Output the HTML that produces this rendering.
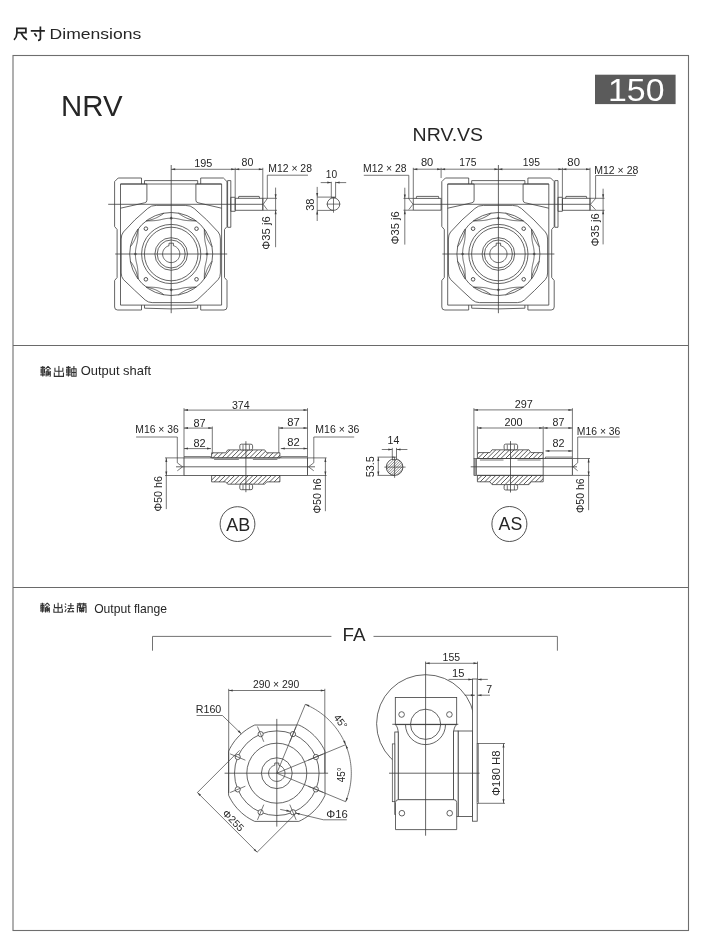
<!DOCTYPE html>
<html><head><meta charset="utf-8"><style>html,body{margin:0;padding:0;background:#fff;width:703px;height:944px;overflow:hidden;position:relative}</style></head>
<body>
<svg width="703" height="944" viewBox="0 0 703 944" style="position:absolute;left:0;top:0;will-change:transform">
<rect x="0" y="0" width="703" height="944" fill="#fff"/>
<rect x="13" y="55.5" width="675.5" height="875" fill="none" stroke="#6e6e6e" stroke-width="1.1"/>
<line x1="13.00" y1="345.50" x2="688.50" y2="345.50" stroke="#6a6a6a" stroke-width="1.0"/>
<line x1="13.00" y1="587.50" x2="688.50" y2="587.50" stroke="#6a6a6a" stroke-width="1.0"/>
<text x="49.60" y="38.80" font-size="15.0" font-family="Liberation Sans, sans-serif" fill="#262626" text-anchor="start" textLength="91.60" lengthAdjust="spacingAndGlyphs">Dimensions</text>
<g fill="none" stroke="#222" stroke-width="1.7" stroke-linecap="butt">
<path d="M16.9,28.3 H25.9 V32.6 H16.9 M16.9,27.5 V33.2 Q16.8,37.2 14.0,39.8 M21.0,32.8 Q23.3,37.6 27.0,39.8"/>
<path d="M30.8,30.8 H44.9 M40.4,26.4 V38.6 Q40.3,40.2 38.0,40.4 M34.4,33.2 L36.7,36.4"/>
</g>
<text x="61.05" y="115.90" font-size="29.7" font-family="Liberation Sans, sans-serif" fill="#262626" text-anchor="start" textLength="61.50" lengthAdjust="spacingAndGlyphs">NRV</text>
<rect x="595" y="74.7" width="80.6" height="29.4" fill="#5b5b5b"/>
<text x="608.06" y="100.60" font-size="31.5" font-family="Liberation Sans, sans-serif" fill="#ffffff" text-anchor="start" textLength="56.44" lengthAdjust="spacingAndGlyphs">150</text>
<text x="412.64" y="141.30" font-size="18.7" font-family="Liberation Sans, sans-serif" fill="#262626" text-anchor="start" textLength="70.51" lengthAdjust="spacingAndGlyphs">NRV.VS</text>
<g fill="none">
<path d="M 40.51,367.35 L 45.08,367.35 M 41.13,369.01 L 44.46,369.01 L 44.46,372.96 L 41.13,372.96 Z M 41.13,370.99 L 44.46,370.99 M 42.80,366.10 L 42.80,376.50 M 40.30,374.84 L 45.19,374.84" fill="none" stroke="#333" stroke-width="1.1"/>
<path d="M 48.00,366.31 L 45.50,369.22 M 48.00,366.31 L 50.70,369.22 M 46.75,369.84 L 49.45,369.84 M 46.12,371.30 L 48.00,371.30 L 48.00,376.29 M 46.12,371.30 L 46.12,376.50 M 46.12,373.07 L 48.00,373.07 M 46.12,374.73 L 48.00,374.73 M 49.04,371.51 L 49.04,375.04 M 50.28,370.88 L 50.28,376.08 L 49.66,376.50" fill="none" stroke="#333" stroke-width="1.1"/>
<path d="M 58.90,366.10 L 58.90,376.50 M 54.95,367.76 L 54.95,371.30 L 62.85,371.30 L 62.85,367.76 M 54.32,372.55 L 54.32,376.40 L 63.48,376.40 L 63.48,372.55" fill="none" stroke="#333" stroke-width="1.1"/>
<path d="M 66.11,367.35 L 70.68,367.35 M 66.73,369.01 L 70.06,369.01 L 70.06,372.96 L 66.73,372.96 Z M 66.73,370.99 L 70.06,370.99 M 68.40,366.10 L 68.40,376.50 M 65.90,374.84 L 70.79,374.84" fill="none" stroke="#333" stroke-width="1.1"/>
<path d="M 71.72,368.80 L 76.09,368.80 L 76.09,376.29 L 71.72,376.29 Z M 71.72,372.55 L 76.09,372.55 M 73.91,366.10 L 73.91,376.29" fill="none" stroke="#333" stroke-width="1.1"/>
</g>
<text x="80.72" y="375.40" font-size="11.9" font-family="Liberation Sans, sans-serif" fill="#262626" text-anchor="start" textLength="70.38" lengthAdjust="spacingAndGlyphs">Output shaft</text>
<g fill="none">
<path d="M 40.29,603.95 L 44.52,603.95 M 40.87,605.49 L 43.94,605.49 L 43.94,609.14 L 40.87,609.14 Z M 40.87,607.31 L 43.94,607.31 M 42.40,602.80 L 42.40,612.40 M 40.10,610.86 L 44.61,610.86" fill="none" stroke="#333" stroke-width="1.1"/>
<path d="M 47.20,602.99 L 44.90,605.68 M 47.20,602.99 L 49.70,605.68 M 46.05,606.26 L 48.55,606.26 M 45.48,607.60 L 47.20,607.60 L 47.20,612.21 M 45.48,607.60 L 45.48,612.40 M 45.48,609.23 L 47.20,609.23 M 45.48,610.77 L 47.20,610.77 M 48.16,607.79 L 48.16,611.06 M 49.32,607.22 L 49.32,612.02 L 48.74,612.40" fill="none" stroke="#333" stroke-width="1.1"/>
<path d="M 58.10,602.80 L 58.10,612.40 M 54.45,604.34 L 54.45,607.60 L 61.75,607.60 L 61.75,604.34 M 53.88,608.75 L 53.88,612.30 L 62.32,612.30 L 62.32,608.75" fill="none" stroke="#333" stroke-width="1.1"/>
<path d="M 65.08,603.57 L 66.14,604.62 M 64.79,606.45 L 65.85,607.50 M 64.89,612.02 L 66.33,609.14 M 67.86,605.68 L 73.82,605.68 M 70.84,603.09 L 70.84,608.56 M 67.29,608.56 L 74.20,608.56 M 69.98,608.75 L 68.06,611.92 L 73.62,611.44 M 72.47,610.10 L 73.82,612.21" fill="none" stroke="#333" stroke-width="1.1"/>
<path d="M 76.90,603.86 L 86.50,603.86 M 79.78,602.80 L 79.78,604.91 M 83.62,602.80 L 83.62,604.91 M 77.38,605.30 L 77.38,612.40 M 86.02,605.30 L 86.02,612.21 L 85.35,612.40 M 77.38,605.30 L 80.55,605.30 L 80.55,607.22 L 77.38,607.22 M 82.85,605.30 L 86.02,605.30 M 82.85,605.30 L 82.85,607.22 L 86.02,607.22 M 79.01,607.98 L 84.39,607.98 M 79.59,608.85 L 83.81,608.85 L 83.81,610.48 L 79.59,610.48 Z M 81.70,607.50 L 81.70,612.40 M 81.32,610.67 L 79.40,612.02 M 82.08,610.67 L 84.00,612.02" fill="none" stroke="#333" stroke-width="1.1"/>
</g>
<text x="94.15" y="613.00" font-size="11.9" font-family="Liberation Sans, sans-serif" fill="#262626" text-anchor="start" textLength="72.89" lengthAdjust="spacingAndGlyphs">Output flange</text>
<path d="M141.50,184.00 L141.50,178.00 L118.20,178.00 L114.60,181.60 L114.60,226.50 L117.10,229.50 L117.10,277.50 L114.60,280.50 L114.60,307.00 Q114.60,310.00 117.60,310.00 L141.50,310.00 L141.50,305.10" fill="none" stroke="#3e3e3e" stroke-width="0.8"/>
<path d="M200.70,184.00 L200.70,178.00 L223.40,178.00 L227.00,181.60 L227.00,226.50 L224.50,229.50 L224.50,277.50 L227.00,280.50 L227.00,307.00 Q227.00,310.00 224.00,310.00 L200.70,310.00 L200.70,305.10" fill="none" stroke="#3e3e3e" stroke-width="0.8"/>
<path d="M144.50,184.00 L144.50,180.60 L197.70,180.60 L197.70,184.00" fill="none" stroke="#3e3e3e" stroke-width="0.8"/>
<path d="M144.50,305.10 L144.50,308.20 Q171.20,309.60 197.70,308.20 L197.70,305.10" fill="none" stroke="#3e3e3e" stroke-width="0.8"/>
<polygon points="120.50,184.00 221.60,184.00 221.60,305.10 120.50,305.10" fill="none" stroke="#3e3e3e" stroke-width="0.8"/>
<path d="M120.50,184.00 L146.90,184.00 L146.90,200.20 Q146.90,202.40 144.70,202.80 L120.50,208.20" fill="none" stroke="#3e3e3e" stroke-width="0.8"/>
<path d="M221.60,184.00 L195.90,184.00 L195.90,200.20 Q195.90,202.40 198.10,202.80 L221.60,208.20" fill="none" stroke="#3e3e3e" stroke-width="0.8"/>
<path d="M156.20,205.40 L185.20,205.40 Q190.70,205.20 194.20,208.50 Q207.20,219.50 218.20,232.00 Q220.40,234.50 220.40,239.00 L220.40,273.00 Q220.40,277.00 218.20,279.50 Q207.20,291.00 197.20,300.00 Q194.20,302.60 190.20,302.60 L152.20,302.60 Q148.20,302.60 145.20,300.00 Q135.20,291.00 123.40,279.50 Q121.20,277.00 121.20,273.00 L121.20,239.00 Q121.20,234.50 123.40,232.00 Q134.20,219.50 147.70,208.50 Q151.20,205.20 156.20,205.40 Z" fill="none" stroke="#3e3e3e" stroke-width="0.8"/>
<circle cx="171.20" cy="254.00" r="41.50" fill="none" stroke="#3e3e3e" stroke-width="0.8"/>
<path d="M204.34,229.02 L204.34,229.92 L204.35,230.79 L204.35,231.64 L204.36,232.46 L204.38,233.27 L204.40,234.05 L204.43,234.82 L204.46,235.56 L204.50,236.30 L204.55,237.01 L204.60,237.71 L204.67,238.39 L204.74,239.07 L204.82,239.73 L204.91,240.38 L205.01,241.02 L205.12,241.65 L205.24,242.28 L205.36,242.90 L205.50,243.51 L205.64,244.12 L205.79,244.73 L205.94,245.34 L206.08,245.95 L206.22,246.56 L206.34,247.17 L206.46,247.78 L206.56,248.40 L206.65,249.02 L206.73,249.64 L206.80,250.26 L206.86,250.88 L206.91,251.50 L206.95,252.13 L206.98,252.75 L206.99,253.38 L207.00,254.00 L206.99,254.62 L206.98,255.25 L206.95,255.87 L206.91,256.50 L206.86,257.12 L206.80,257.74 L206.73,258.36 L206.65,258.98 L206.56,259.60 L206.46,260.22 L206.34,260.83 L206.22,261.44 L206.08,262.05 L205.94,262.66 L205.79,263.27 L205.64,263.88 L205.50,264.49 L205.36,265.10 L205.24,265.72 L205.12,266.35 L205.01,266.98 L204.91,267.62 L204.82,268.27 L204.74,268.93 L204.67,269.61 L204.60,270.29 L204.55,270.99 L204.50,271.70 L204.46,272.44 L204.43,273.18 L204.40,273.95 L204.38,274.73 L204.36,275.54 L204.35,276.36 L204.35,277.21 L204.34,278.08 L204.34,278.98" fill="none" stroke="#3e3e3e" stroke-width="0.8"/>
<path d="M212.07,246.79 L211.20,245.72 L210.49,244.66 L209.83,243.61 L209.20,242.56 L208.61,241.53 L208.05,240.50 L207.53,239.46 L207.06,238.41 L206.62,237.34 L206.21,236.26 L205.83,235.15 L205.48,234.01 L205.15,232.84 L204.83,231.64 L204.53,230.39 L204.34,229.02" fill="none" stroke="#3e3e3e" stroke-width="0.8"/>
<path d="M212.07,261.21 L211.20,262.28 L210.49,263.34 L209.83,264.39 L209.20,265.44 L208.61,266.47 L208.05,267.50 L207.53,268.54 L207.06,269.59 L206.62,270.66 L206.21,271.74 L205.83,272.85 L205.48,273.99 L205.15,275.16 L204.83,276.36 L204.53,277.61 L204.34,278.98" fill="none" stroke="#3e3e3e" stroke-width="0.8"/>
<path d="M196.18,287.14 L195.28,287.14 L194.41,287.15 L193.56,287.15 L192.74,287.16 L191.93,287.18 L191.15,287.20 L190.38,287.23 L189.64,287.26 L188.90,287.30 L188.19,287.35 L187.49,287.40 L186.81,287.47 L186.13,287.54 L185.47,287.62 L184.82,287.71 L184.18,287.81 L183.55,287.92 L182.92,288.04 L182.30,288.16 L181.69,288.30 L181.08,288.44 L180.47,288.59 L179.86,288.74 L179.25,288.88 L178.64,289.02 L178.03,289.14 L177.42,289.26 L176.80,289.36 L176.18,289.45 L175.56,289.53 L174.94,289.60 L174.32,289.66 L173.70,289.71 L173.07,289.75 L172.45,289.78 L171.82,289.79 L171.20,289.80 L170.58,289.79 L169.95,289.78 L169.33,289.75 L168.70,289.71 L168.08,289.66 L167.46,289.60 L166.84,289.53 L166.22,289.45 L165.60,289.36 L164.98,289.26 L164.37,289.14 L163.76,289.02 L163.15,288.88 L162.54,288.74 L161.93,288.59 L161.32,288.44 L160.71,288.30 L160.10,288.16 L159.48,288.04 L158.85,287.92 L158.22,287.81 L157.58,287.71 L156.93,287.62 L156.27,287.54 L155.59,287.47 L154.91,287.40 L154.21,287.35 L153.50,287.30 L152.76,287.26 L152.02,287.23 L151.25,287.20 L150.47,287.18 L149.66,287.16 L148.84,287.15 L147.99,287.15 L147.12,287.14 L146.22,287.14" fill="none" stroke="#3e3e3e" stroke-width="0.8"/>
<path d="M178.41,294.87 L179.48,294.00 L180.54,293.29 L181.59,292.63 L182.64,292.00 L183.67,291.41 L184.70,290.85 L185.74,290.33 L186.79,289.86 L187.86,289.42 L188.94,289.01 L190.05,288.63 L191.19,288.28 L192.36,287.95 L193.56,287.63 L194.81,287.33 L196.18,287.14" fill="none" stroke="#3e3e3e" stroke-width="0.8"/>
<path d="M163.99,294.87 L162.92,294.00 L161.86,293.29 L160.81,292.63 L159.76,292.00 L158.73,291.41 L157.70,290.85 L156.66,290.33 L155.61,289.86 L154.54,289.42 L153.46,289.01 L152.35,288.63 L151.21,288.28 L150.04,287.95 L148.84,287.63 L147.59,287.33 L146.22,287.14" fill="none" stroke="#3e3e3e" stroke-width="0.8"/>
<path d="M138.06,278.98 L138.06,278.08 L138.05,277.21 L138.05,276.36 L138.04,275.54 L138.02,274.73 L138.00,273.95 L137.97,273.18 L137.94,272.44 L137.90,271.70 L137.85,270.99 L137.80,270.29 L137.73,269.61 L137.66,268.93 L137.58,268.27 L137.49,267.62 L137.39,266.98 L137.28,266.35 L137.16,265.72 L137.04,265.10 L136.90,264.49 L136.76,263.88 L136.61,263.27 L136.46,262.66 L136.32,262.05 L136.18,261.44 L136.06,260.83 L135.94,260.22 L135.84,259.60 L135.75,258.98 L135.67,258.36 L135.60,257.74 L135.54,257.12 L135.49,256.50 L135.45,255.87 L135.42,255.25 L135.41,254.62 L135.40,254.00 L135.41,253.38 L135.42,252.75 L135.45,252.13 L135.49,251.50 L135.54,250.88 L135.60,250.26 L135.67,249.64 L135.75,249.02 L135.84,248.40 L135.94,247.78 L136.06,247.17 L136.18,246.56 L136.32,245.95 L136.46,245.34 L136.61,244.73 L136.76,244.12 L136.90,243.51 L137.04,242.90 L137.16,242.28 L137.28,241.65 L137.39,241.02 L137.49,240.38 L137.58,239.73 L137.66,239.07 L137.73,238.39 L137.80,237.71 L137.85,237.01 L137.90,236.30 L137.94,235.56 L137.97,234.82 L138.00,234.05 L138.02,233.27 L138.04,232.46 L138.05,231.64 L138.05,230.79 L138.06,229.92 L138.06,229.02" fill="none" stroke="#3e3e3e" stroke-width="0.8"/>
<path d="M130.33,261.21 L131.20,262.28 L131.91,263.34 L132.57,264.39 L133.20,265.44 L133.79,266.47 L134.35,267.50 L134.87,268.54 L135.34,269.59 L135.78,270.66 L136.19,271.74 L136.57,272.85 L136.92,273.99 L137.25,275.16 L137.57,276.36 L137.87,277.61 L138.06,278.98" fill="none" stroke="#3e3e3e" stroke-width="0.8"/>
<path d="M130.33,246.79 L131.20,245.72 L131.91,244.66 L132.57,243.61 L133.20,242.56 L133.79,241.53 L134.35,240.50 L134.87,239.46 L135.34,238.41 L135.78,237.34 L136.19,236.26 L136.57,235.15 L136.92,234.01 L137.25,232.84 L137.57,231.64 L137.87,230.39 L138.06,229.02" fill="none" stroke="#3e3e3e" stroke-width="0.8"/>
<path d="M146.22,220.86 L147.12,220.86 L147.99,220.85 L148.84,220.85 L149.66,220.84 L150.47,220.82 L151.25,220.80 L152.02,220.77 L152.76,220.74 L153.50,220.70 L154.21,220.65 L154.91,220.60 L155.59,220.53 L156.27,220.46 L156.93,220.38 L157.58,220.29 L158.22,220.19 L158.85,220.08 L159.48,219.96 L160.10,219.84 L160.71,219.70 L161.32,219.56 L161.93,219.41 L162.54,219.26 L163.15,219.12 L163.76,218.98 L164.37,218.86 L164.98,218.74 L165.60,218.64 L166.22,218.55 L166.84,218.47 L167.46,218.40 L168.08,218.34 L168.70,218.29 L169.33,218.25 L169.95,218.22 L170.58,218.21 L171.20,218.20 L171.82,218.21 L172.45,218.22 L173.07,218.25 L173.70,218.29 L174.32,218.34 L174.94,218.40 L175.56,218.47 L176.18,218.55 L176.80,218.64 L177.42,218.74 L178.03,218.86 L178.64,218.98 L179.25,219.12 L179.86,219.26 L180.47,219.41 L181.08,219.56 L181.69,219.70 L182.30,219.84 L182.92,219.96 L183.55,220.08 L184.18,220.19 L184.82,220.29 L185.47,220.38 L186.13,220.46 L186.81,220.53 L187.49,220.60 L188.19,220.65 L188.90,220.70 L189.64,220.74 L190.38,220.77 L191.15,220.80 L191.93,220.82 L192.74,220.84 L193.56,220.85 L194.41,220.85 L195.28,220.86 L196.18,220.86" fill="none" stroke="#3e3e3e" stroke-width="0.8"/>
<path d="M163.99,213.13 L162.92,214.00 L161.86,214.71 L160.81,215.37 L159.76,216.00 L158.73,216.59 L157.70,217.15 L156.66,217.67 L155.61,218.14 L154.54,218.58 L153.46,218.99 L152.35,219.37 L151.21,219.72 L150.04,220.05 L148.84,220.37 L147.59,220.67 L146.22,220.86" fill="none" stroke="#3e3e3e" stroke-width="0.8"/>
<path d="M178.41,213.13 L179.48,214.00 L180.54,214.71 L181.59,215.37 L182.64,216.00 L183.67,216.59 L184.70,217.15 L185.74,217.67 L186.79,218.14 L187.86,218.58 L188.94,218.99 L190.05,219.37 L191.19,219.72 L192.36,220.05 L193.56,220.37 L194.81,220.67 L196.18,220.86" fill="none" stroke="#3e3e3e" stroke-width="0.8"/>
<circle cx="171.20" cy="254.00" r="29.60" fill="none" stroke="#3e3e3e" stroke-width="0.8"/>
<circle cx="171.20" cy="254.00" r="26.80" fill="none" stroke="#3e3e3e" stroke-width="0.8"/>
<circle cx="171.20" cy="254.00" r="16.30" fill="none" stroke="#3e3e3e" stroke-width="0.8"/>
<circle cx="171.20" cy="254.00" r="14.00" fill="none" stroke="#3e3e3e" stroke-width="0.8"/>
<path d="M173.40,243.20 L173.40,245.69 L173.40,245.69 L174.57,246.09 L175.67,246.65 L176.68,247.37 L177.58,248.23 L178.34,249.21 L178.95,250.28 L179.41,251.43 L179.69,252.64 L179.80,253.87 L179.73,255.11 L179.48,256.32 L179.06,257.49 L178.48,258.58 L177.74,259.58 L176.88,260.46 L175.89,261.21 L174.80,261.81 L173.65,262.25 L172.44,262.51 L171.20,262.60 L169.96,262.51 L168.75,262.25 L167.60,261.81 L166.51,261.21 L165.52,260.46 L164.66,259.58 L163.92,258.58 L163.34,257.49 L162.92,256.32 L162.67,255.11 L162.60,253.87 L162.71,252.64 L162.99,251.43 L163.45,250.28 L164.06,249.21 L164.82,248.23 L165.72,247.37 L166.73,246.65 L167.83,246.09 L169.00,245.69 L169.00,243.20 Z" fill="none" stroke="#3e3e3e" stroke-width="0.8"/>
<polygon points="205.40,254.00 207.00,252.40 208.60,254.00 207.00,255.60" fill="#555" stroke="none"/>
<circle cx="196.51" cy="279.31" r="1.80" fill="none" stroke="#3e3e3e" stroke-width="0.9"/>
<polygon points="169.60,289.80 171.20,288.20 172.80,289.80 171.20,291.40" fill="#555" stroke="none"/>
<circle cx="145.89" cy="279.31" r="1.80" fill="none" stroke="#3e3e3e" stroke-width="0.9"/>
<polygon points="133.80,254.00 135.40,252.40 137.00,254.00 135.40,255.60" fill="#555" stroke="none"/>
<circle cx="145.89" cy="228.69" r="1.80" fill="none" stroke="#3e3e3e" stroke-width="0.9"/>
<polygon points="169.60,218.20 171.20,216.60 172.80,218.20 171.20,219.80" fill="#555" stroke="none"/>
<circle cx="196.51" cy="228.69" r="1.80" fill="none" stroke="#3e3e3e" stroke-width="0.9"/>
<line x1="171.20" y1="165.00" x2="171.20" y2="313.20" stroke="#3e3e3e" stroke-width="0.8"/>
<line x1="115.20" y1="254.00" x2="227.20" y2="254.00" stroke="#3e3e3e" stroke-width="0.8"/>
<polygon points="227.60,180.60 230.80,180.60 230.80,227.30 227.60,227.30" fill="none" stroke="#3e3e3e" stroke-width="0.8"/>
<polygon points="230.80,197.30 235.20,197.30 235.20,211.30 230.80,211.30" fill="none" stroke="#3e3e3e" stroke-width="0.8"/>
<polygon points="235.20,198.30 262.80,198.30 262.80,210.30 235.20,210.30" fill="none" stroke="#3e3e3e" stroke-width="0.8"/>
<path d="M238.40,198.3 L238.80,196.4 L259.20,196.4 L259.60,198.3" fill="none" stroke="#3e3e3e" stroke-width="0.8"/>
<line x1="108.20" y1="204.30" x2="262.80" y2="204.30" stroke="#3e3e3e" stroke-width="0.8"/>
<line x1="171.20" y1="169.30" x2="235.20" y2="169.30" stroke="#3e3e3e" stroke-width="0.7"/>
<polygon points="171.20,169.30 175.20,168.30 175.20,170.30" fill="#3e3e3e"/>
<polygon points="235.20,169.30 231.20,170.30 231.20,168.30" fill="#3e3e3e"/>
<line x1="235.20" y1="169.30" x2="262.80" y2="169.30" stroke="#3e3e3e" stroke-width="0.7"/>
<polygon points="235.20,169.30 239.20,168.30 239.20,170.30" fill="#3e3e3e"/>
<polygon points="262.80,169.30 258.80,170.30 258.80,168.30" fill="#3e3e3e"/>
<line x1="235.20" y1="167.80" x2="235.20" y2="197.30" stroke="#3e3e3e" stroke-width="0.7"/>
<line x1="262.80" y1="167.80" x2="262.80" y2="210.30" stroke="#3e3e3e" stroke-width="0.7"/>
<text x="194.29" y="166.60" font-size="10.5" font-family="Liberation Sans, sans-serif" fill="#262626" text-anchor="start" textLength="18.08" lengthAdjust="spacingAndGlyphs">195</text>
<text x="241.62" y="166.40" font-size="10.5" font-family="Liberation Sans, sans-serif" fill="#262626" text-anchor="start" textLength="11.77" lengthAdjust="spacingAndGlyphs">80</text>
<text x="268.27" y="172.30" font-size="10.3" font-family="Liberation Sans, sans-serif" fill="#262626" text-anchor="start" textLength="43.67" lengthAdjust="spacingAndGlyphs">M12 × 28</text>
<path d="M308,175.2 L267.3,175.2 L267.3,198.5 L263.2,204.3 L267.3,209.8" fill="none" stroke="#3e3e3e" stroke-width="0.7"/>
<line x1="275.60" y1="187.60" x2="275.60" y2="247.20" stroke="#3e3e3e" stroke-width="0.7"/>
<line x1="262.80" y1="198.30" x2="277.00" y2="198.30" stroke="#3e3e3e" stroke-width="0.7"/>
<line x1="262.80" y1="210.30" x2="277.00" y2="210.30" stroke="#3e3e3e" stroke-width="0.7"/>
<polygon points="275.60,198.30 274.60,194.30 276.60,194.30" fill="#3e3e3e"/>
<polygon points="275.60,210.30 276.60,214.30 274.60,214.30" fill="#3e3e3e"/>
<text x="270.30" y="249.72" font-size="10.5" font-family="Liberation Sans, sans-serif" fill="#262626" text-anchor="start" textLength="33.49" lengthAdjust="spacingAndGlyphs" transform="rotate(-90 270.30 249.72)">Φ35 j6</text>
<circle cx="333.50" cy="204.10" r="6.26" fill="none" stroke="#3e3e3e" stroke-width="0.8"/>
<line x1="331.30" y1="181.80" x2="331.30" y2="197.60" stroke="#3e3e3e" stroke-width="0.7"/>
<line x1="335.60" y1="181.80" x2="335.60" y2="197.60" stroke="#3e3e3e" stroke-width="0.7"/>
<line x1="331.30" y1="197.60" x2="335.60" y2="197.60" stroke="#3e3e3e" stroke-width="0.7"/>
<line x1="320.70" y1="182.60" x2="331.30" y2="182.60" stroke="#3e3e3e" stroke-width="0.7"/>
<line x1="335.60" y1="182.60" x2="346.20" y2="182.60" stroke="#3e3e3e" stroke-width="0.7"/>
<polygon points="331.30,182.60 327.30,183.60 327.30,181.60" fill="#3e3e3e"/>
<polygon points="335.60,182.60 339.60,181.60 339.60,183.60" fill="#3e3e3e"/>
<text x="325.84" y="177.90" font-size="10.3" font-family="Liberation Sans, sans-serif" fill="#262626" text-anchor="start" textLength="11.35" lengthAdjust="spacingAndGlyphs">10</text>
<line x1="317.20" y1="186.90" x2="317.20" y2="221.00" stroke="#3e3e3e" stroke-width="0.7"/>
<line x1="317.20" y1="197.10" x2="335.60" y2="197.10" stroke="#3e3e3e" stroke-width="0.7"/>
<line x1="317.20" y1="210.40" x2="333.50" y2="210.40" stroke="#3e3e3e" stroke-width="0.7"/>
<polygon points="317.20,197.10 316.20,193.10 318.20,193.10" fill="#3e3e3e"/>
<polygon points="317.20,210.40 318.20,214.40 316.20,214.40" fill="#3e3e3e"/>
<text x="314.10" y="210.84" font-size="10.5" font-family="Liberation Sans, sans-serif" fill="#262626" text-anchor="start" textLength="12.31" lengthAdjust="spacingAndGlyphs" transform="rotate(-90 314.10 210.84)">38</text>
<line x1="326.60" y1="204.10" x2="340.30" y2="204.10" stroke="#3e3e3e" stroke-width="0.7"/>
<line x1="333.50" y1="197.00" x2="333.50" y2="212.70" stroke="#3e3e3e" stroke-width="0.7"/>
<path d="M468.70,184.00 L468.70,178.00 L445.40,178.00 L441.80,181.60 L441.80,226.50 L444.30,229.50 L444.30,277.50 L441.80,280.50 L441.80,307.00 Q441.80,310.00 444.80,310.00 L468.70,310.00 L468.70,305.10" fill="none" stroke="#3e3e3e" stroke-width="0.8"/>
<path d="M527.90,184.00 L527.90,178.00 L550.60,178.00 L554.20,181.60 L554.20,226.50 L551.70,229.50 L551.70,277.50 L554.20,280.50 L554.20,307.00 Q554.20,310.00 551.20,310.00 L527.90,310.00 L527.90,305.10" fill="none" stroke="#3e3e3e" stroke-width="0.8"/>
<path d="M471.70,184.00 L471.70,180.60 L524.90,180.60 L524.90,184.00" fill="none" stroke="#3e3e3e" stroke-width="0.8"/>
<path d="M471.70,305.10 L471.70,308.20 Q498.40,309.60 524.90,308.20 L524.90,305.10" fill="none" stroke="#3e3e3e" stroke-width="0.8"/>
<polygon points="447.70,184.00 548.80,184.00 548.80,305.10 447.70,305.10" fill="none" stroke="#3e3e3e" stroke-width="0.8"/>
<path d="M447.70,184.00 L474.10,184.00 L474.10,200.20 Q474.10,202.40 471.90,202.80 L447.70,208.20" fill="none" stroke="#3e3e3e" stroke-width="0.8"/>
<path d="M548.80,184.00 L523.10,184.00 L523.10,200.20 Q523.10,202.40 525.30,202.80 L548.80,208.20" fill="none" stroke="#3e3e3e" stroke-width="0.8"/>
<path d="M483.40,205.40 L512.40,205.40 Q517.90,205.20 521.40,208.50 Q534.40,219.50 545.40,232.00 Q547.60,234.50 547.60,239.00 L547.60,273.00 Q547.60,277.00 545.40,279.50 Q534.40,291.00 524.40,300.00 Q521.40,302.60 517.40,302.60 L479.40,302.60 Q475.40,302.60 472.40,300.00 Q462.40,291.00 450.60,279.50 Q448.40,277.00 448.40,273.00 L448.40,239.00 Q448.40,234.50 450.60,232.00 Q461.40,219.50 474.90,208.50 Q478.40,205.20 483.40,205.40 Z" fill="none" stroke="#3e3e3e" stroke-width="0.8"/>
<circle cx="498.40" cy="254.00" r="41.50" fill="none" stroke="#3e3e3e" stroke-width="0.8"/>
<path d="M531.54,229.02 L531.54,229.92 L531.55,230.79 L531.55,231.64 L531.56,232.46 L531.58,233.27 L531.60,234.05 L531.63,234.82 L531.66,235.56 L531.70,236.30 L531.75,237.01 L531.80,237.71 L531.87,238.39 L531.94,239.07 L532.02,239.73 L532.11,240.38 L532.21,241.02 L532.32,241.65 L532.44,242.28 L532.56,242.90 L532.70,243.51 L532.84,244.12 L532.99,244.73 L533.14,245.34 L533.28,245.95 L533.42,246.56 L533.54,247.17 L533.66,247.78 L533.76,248.40 L533.85,249.02 L533.93,249.64 L534.00,250.26 L534.06,250.88 L534.11,251.50 L534.15,252.13 L534.18,252.75 L534.19,253.38 L534.20,254.00 L534.19,254.62 L534.18,255.25 L534.15,255.87 L534.11,256.50 L534.06,257.12 L534.00,257.74 L533.93,258.36 L533.85,258.98 L533.76,259.60 L533.66,260.22 L533.54,260.83 L533.42,261.44 L533.28,262.05 L533.14,262.66 L532.99,263.27 L532.84,263.88 L532.70,264.49 L532.56,265.10 L532.44,265.72 L532.32,266.35 L532.21,266.98 L532.11,267.62 L532.02,268.27 L531.94,268.93 L531.87,269.61 L531.80,270.29 L531.75,270.99 L531.70,271.70 L531.66,272.44 L531.63,273.18 L531.60,273.95 L531.58,274.73 L531.56,275.54 L531.55,276.36 L531.55,277.21 L531.54,278.08 L531.54,278.98" fill="none" stroke="#3e3e3e" stroke-width="0.8"/>
<path d="M539.27,246.79 L538.40,245.72 L537.69,244.66 L537.03,243.61 L536.40,242.56 L535.81,241.53 L535.25,240.50 L534.73,239.46 L534.26,238.41 L533.82,237.34 L533.41,236.26 L533.03,235.15 L532.68,234.01 L532.35,232.84 L532.03,231.64 L531.73,230.39 L531.54,229.02" fill="none" stroke="#3e3e3e" stroke-width="0.8"/>
<path d="M539.27,261.21 L538.40,262.28 L537.69,263.34 L537.03,264.39 L536.40,265.44 L535.81,266.47 L535.25,267.50 L534.73,268.54 L534.26,269.59 L533.82,270.66 L533.41,271.74 L533.03,272.85 L532.68,273.99 L532.35,275.16 L532.03,276.36 L531.73,277.61 L531.54,278.98" fill="none" stroke="#3e3e3e" stroke-width="0.8"/>
<path d="M523.38,287.14 L522.48,287.14 L521.61,287.15 L520.76,287.15 L519.94,287.16 L519.13,287.18 L518.35,287.20 L517.58,287.23 L516.84,287.26 L516.10,287.30 L515.39,287.35 L514.69,287.40 L514.01,287.47 L513.33,287.54 L512.67,287.62 L512.02,287.71 L511.38,287.81 L510.75,287.92 L510.12,288.04 L509.50,288.16 L508.89,288.30 L508.28,288.44 L507.67,288.59 L507.06,288.74 L506.45,288.88 L505.84,289.02 L505.23,289.14 L504.62,289.26 L504.00,289.36 L503.38,289.45 L502.76,289.53 L502.14,289.60 L501.52,289.66 L500.90,289.71 L500.27,289.75 L499.65,289.78 L499.02,289.79 L498.40,289.80 L497.78,289.79 L497.15,289.78 L496.53,289.75 L495.90,289.71 L495.28,289.66 L494.66,289.60 L494.04,289.53 L493.42,289.45 L492.80,289.36 L492.18,289.26 L491.57,289.14 L490.96,289.02 L490.35,288.88 L489.74,288.74 L489.13,288.59 L488.52,288.44 L487.91,288.30 L487.30,288.16 L486.68,288.04 L486.05,287.92 L485.42,287.81 L484.78,287.71 L484.13,287.62 L483.47,287.54 L482.79,287.47 L482.11,287.40 L481.41,287.35 L480.70,287.30 L479.96,287.26 L479.22,287.23 L478.45,287.20 L477.67,287.18 L476.86,287.16 L476.04,287.15 L475.19,287.15 L474.32,287.14 L473.42,287.14" fill="none" stroke="#3e3e3e" stroke-width="0.8"/>
<path d="M505.61,294.87 L506.68,294.00 L507.74,293.29 L508.79,292.63 L509.84,292.00 L510.87,291.41 L511.90,290.85 L512.94,290.33 L513.99,289.86 L515.06,289.42 L516.14,289.01 L517.25,288.63 L518.39,288.28 L519.56,287.95 L520.76,287.63 L522.01,287.33 L523.38,287.14" fill="none" stroke="#3e3e3e" stroke-width="0.8"/>
<path d="M491.19,294.87 L490.12,294.00 L489.06,293.29 L488.01,292.63 L486.96,292.00 L485.93,291.41 L484.90,290.85 L483.86,290.33 L482.81,289.86 L481.74,289.42 L480.66,289.01 L479.55,288.63 L478.41,288.28 L477.24,287.95 L476.04,287.63 L474.79,287.33 L473.42,287.14" fill="none" stroke="#3e3e3e" stroke-width="0.8"/>
<path d="M465.26,278.98 L465.26,278.08 L465.25,277.21 L465.25,276.36 L465.24,275.54 L465.22,274.73 L465.20,273.95 L465.17,273.18 L465.14,272.44 L465.10,271.70 L465.05,270.99 L465.00,270.29 L464.93,269.61 L464.86,268.93 L464.78,268.27 L464.69,267.62 L464.59,266.98 L464.48,266.35 L464.36,265.72 L464.24,265.10 L464.10,264.49 L463.96,263.88 L463.81,263.27 L463.66,262.66 L463.52,262.05 L463.38,261.44 L463.26,260.83 L463.14,260.22 L463.04,259.60 L462.95,258.98 L462.87,258.36 L462.80,257.74 L462.74,257.12 L462.69,256.50 L462.65,255.87 L462.62,255.25 L462.61,254.62 L462.60,254.00 L462.61,253.38 L462.62,252.75 L462.65,252.13 L462.69,251.50 L462.74,250.88 L462.80,250.26 L462.87,249.64 L462.95,249.02 L463.04,248.40 L463.14,247.78 L463.26,247.17 L463.38,246.56 L463.52,245.95 L463.66,245.34 L463.81,244.73 L463.96,244.12 L464.10,243.51 L464.24,242.90 L464.36,242.28 L464.48,241.65 L464.59,241.02 L464.69,240.38 L464.78,239.73 L464.86,239.07 L464.93,238.39 L465.00,237.71 L465.05,237.01 L465.10,236.30 L465.14,235.56 L465.17,234.82 L465.20,234.05 L465.22,233.27 L465.24,232.46 L465.25,231.64 L465.25,230.79 L465.26,229.92 L465.26,229.02" fill="none" stroke="#3e3e3e" stroke-width="0.8"/>
<path d="M457.53,261.21 L458.40,262.28 L459.11,263.34 L459.77,264.39 L460.40,265.44 L460.99,266.47 L461.55,267.50 L462.07,268.54 L462.54,269.59 L462.98,270.66 L463.39,271.74 L463.77,272.85 L464.12,273.99 L464.45,275.16 L464.77,276.36 L465.07,277.61 L465.26,278.98" fill="none" stroke="#3e3e3e" stroke-width="0.8"/>
<path d="M457.53,246.79 L458.40,245.72 L459.11,244.66 L459.77,243.61 L460.40,242.56 L460.99,241.53 L461.55,240.50 L462.07,239.46 L462.54,238.41 L462.98,237.34 L463.39,236.26 L463.77,235.15 L464.12,234.01 L464.45,232.84 L464.77,231.64 L465.07,230.39 L465.26,229.02" fill="none" stroke="#3e3e3e" stroke-width="0.8"/>
<path d="M473.42,220.86 L474.32,220.86 L475.19,220.85 L476.04,220.85 L476.86,220.84 L477.67,220.82 L478.45,220.80 L479.22,220.77 L479.96,220.74 L480.70,220.70 L481.41,220.65 L482.11,220.60 L482.79,220.53 L483.47,220.46 L484.13,220.38 L484.78,220.29 L485.42,220.19 L486.05,220.08 L486.68,219.96 L487.30,219.84 L487.91,219.70 L488.52,219.56 L489.13,219.41 L489.74,219.26 L490.35,219.12 L490.96,218.98 L491.57,218.86 L492.18,218.74 L492.80,218.64 L493.42,218.55 L494.04,218.47 L494.66,218.40 L495.28,218.34 L495.90,218.29 L496.53,218.25 L497.15,218.22 L497.78,218.21 L498.40,218.20 L499.02,218.21 L499.65,218.22 L500.27,218.25 L500.90,218.29 L501.52,218.34 L502.14,218.40 L502.76,218.47 L503.38,218.55 L504.00,218.64 L504.62,218.74 L505.23,218.86 L505.84,218.98 L506.45,219.12 L507.06,219.26 L507.67,219.41 L508.28,219.56 L508.89,219.70 L509.50,219.84 L510.12,219.96 L510.75,220.08 L511.38,220.19 L512.02,220.29 L512.67,220.38 L513.33,220.46 L514.01,220.53 L514.69,220.60 L515.39,220.65 L516.10,220.70 L516.84,220.74 L517.58,220.77 L518.35,220.80 L519.13,220.82 L519.94,220.84 L520.76,220.85 L521.61,220.85 L522.48,220.86 L523.38,220.86" fill="none" stroke="#3e3e3e" stroke-width="0.8"/>
<path d="M491.19,213.13 L490.12,214.00 L489.06,214.71 L488.01,215.37 L486.96,216.00 L485.93,216.59 L484.90,217.15 L483.86,217.67 L482.81,218.14 L481.74,218.58 L480.66,218.99 L479.55,219.37 L478.41,219.72 L477.24,220.05 L476.04,220.37 L474.79,220.67 L473.42,220.86" fill="none" stroke="#3e3e3e" stroke-width="0.8"/>
<path d="M505.61,213.13 L506.68,214.00 L507.74,214.71 L508.79,215.37 L509.84,216.00 L510.87,216.59 L511.90,217.15 L512.94,217.67 L513.99,218.14 L515.06,218.58 L516.14,218.99 L517.25,219.37 L518.39,219.72 L519.56,220.05 L520.76,220.37 L522.01,220.67 L523.38,220.86" fill="none" stroke="#3e3e3e" stroke-width="0.8"/>
<circle cx="498.40" cy="254.00" r="29.60" fill="none" stroke="#3e3e3e" stroke-width="0.8"/>
<circle cx="498.40" cy="254.00" r="26.80" fill="none" stroke="#3e3e3e" stroke-width="0.8"/>
<circle cx="498.40" cy="254.00" r="16.30" fill="none" stroke="#3e3e3e" stroke-width="0.8"/>
<circle cx="498.40" cy="254.00" r="14.00" fill="none" stroke="#3e3e3e" stroke-width="0.8"/>
<path d="M500.60,243.20 L500.60,245.69 L500.60,245.69 L501.77,246.09 L502.87,246.65 L503.88,247.37 L504.78,248.23 L505.54,249.21 L506.15,250.28 L506.61,251.43 L506.89,252.64 L507.00,253.87 L506.93,255.11 L506.68,256.32 L506.26,257.49 L505.68,258.58 L504.94,259.58 L504.08,260.46 L503.09,261.21 L502.00,261.81 L500.85,262.25 L499.64,262.51 L498.40,262.60 L497.16,262.51 L495.95,262.25 L494.80,261.81 L493.71,261.21 L492.72,260.46 L491.86,259.58 L491.12,258.58 L490.54,257.49 L490.12,256.32 L489.87,255.11 L489.80,253.87 L489.91,252.64 L490.19,251.43 L490.65,250.28 L491.26,249.21 L492.02,248.23 L492.92,247.37 L493.93,246.65 L495.03,246.09 L496.20,245.69 L496.20,243.20 Z" fill="none" stroke="#3e3e3e" stroke-width="0.8"/>
<polygon points="532.60,254.00 534.20,252.40 535.80,254.00 534.20,255.60" fill="#555" stroke="none"/>
<circle cx="523.71" cy="279.31" r="1.80" fill="none" stroke="#3e3e3e" stroke-width="0.9"/>
<polygon points="496.80,289.80 498.40,288.20 500.00,289.80 498.40,291.40" fill="#555" stroke="none"/>
<circle cx="473.09" cy="279.31" r="1.80" fill="none" stroke="#3e3e3e" stroke-width="0.9"/>
<polygon points="461.00,254.00 462.60,252.40 464.20,254.00 462.60,255.60" fill="#555" stroke="none"/>
<circle cx="473.09" cy="228.69" r="1.80" fill="none" stroke="#3e3e3e" stroke-width="0.9"/>
<polygon points="496.80,218.20 498.40,216.60 500.00,218.20 498.40,219.80" fill="#555" stroke="none"/>
<circle cx="523.71" cy="228.69" r="1.80" fill="none" stroke="#3e3e3e" stroke-width="0.9"/>
<line x1="498.40" y1="165.00" x2="498.40" y2="313.20" stroke="#3e3e3e" stroke-width="0.8"/>
<line x1="442.40" y1="254.00" x2="554.40" y2="254.00" stroke="#3e3e3e" stroke-width="0.8"/>
<polygon points="554.80,180.60 558.00,180.60 558.00,227.30 554.80,227.30" fill="none" stroke="#3e3e3e" stroke-width="0.8"/>
<polygon points="558.00,197.30 562.40,197.30 562.40,211.30 558.00,211.30" fill="none" stroke="#3e3e3e" stroke-width="0.8"/>
<polygon points="562.40,198.30 590.00,198.30 590.00,210.30 562.40,210.30" fill="none" stroke="#3e3e3e" stroke-width="0.8"/>
<path d="M565.60,198.3 L566.00,196.4 L586.40,196.4 L586.80,198.3" fill="none" stroke="#3e3e3e" stroke-width="0.8"/>
<polygon points="413.30,198.40 441.10,198.40 441.10,210.20 413.30,210.20" fill="none" stroke="#3e3e3e" stroke-width="0.8"/>
<path d="M416.20,198.4 L416.60,196.4 L438.50,196.4 L438.90,198.4" fill="none" stroke="#3e3e3e" stroke-width="0.8"/>
<line x1="413.30" y1="204.30" x2="590.00" y2="204.30" stroke="#3e3e3e" stroke-width="0.8"/>
<line x1="413.30" y1="169.20" x2="441.10" y2="169.20" stroke="#3e3e3e" stroke-width="0.7"/>
<polygon points="413.30,169.20 417.30,168.20 417.30,170.20" fill="#3e3e3e"/>
<polygon points="441.10,169.20 437.10,170.20 437.10,168.20" fill="#3e3e3e"/>
<line x1="441.10" y1="169.20" x2="498.40" y2="169.20" stroke="#3e3e3e" stroke-width="0.7"/>
<polygon points="441.10,169.20 445.10,168.20 445.10,170.20" fill="#3e3e3e"/>
<polygon points="498.40,169.20 494.40,170.20 494.40,168.20" fill="#3e3e3e"/>
<line x1="498.40" y1="169.20" x2="562.40" y2="169.20" stroke="#3e3e3e" stroke-width="0.7"/>
<polygon points="498.40,169.20 502.40,168.20 502.40,170.20" fill="#3e3e3e"/>
<polygon points="562.40,169.20 558.40,170.20 558.40,168.20" fill="#3e3e3e"/>
<line x1="562.40" y1="169.20" x2="590.00" y2="169.20" stroke="#3e3e3e" stroke-width="0.7"/>
<polygon points="562.40,169.20 566.40,168.20 566.40,170.20" fill="#3e3e3e"/>
<polygon points="590.00,169.20 586.00,170.20 586.00,168.20" fill="#3e3e3e"/>
<line x1="413.30" y1="167.80" x2="413.30" y2="198.40" stroke="#3e3e3e" stroke-width="0.7"/>
<line x1="441.10" y1="167.80" x2="441.10" y2="178.00" stroke="#3e3e3e" stroke-width="0.7"/>
<line x1="562.40" y1="167.80" x2="562.40" y2="197.30" stroke="#3e3e3e" stroke-width="0.7"/>
<line x1="590.00" y1="167.80" x2="590.00" y2="210.30" stroke="#3e3e3e" stroke-width="0.7"/>
<text x="420.90" y="166.40" font-size="10.5" font-family="Liberation Sans, sans-serif" fill="#262626" text-anchor="start" textLength="12.31" lengthAdjust="spacingAndGlyphs">80</text>
<text x="459.33" y="166.40" font-size="10.5" font-family="Liberation Sans, sans-serif" fill="#262626" text-anchor="start" textLength="17.12" lengthAdjust="spacingAndGlyphs">175</text>
<text x="522.73" y="166.40" font-size="10.5" font-family="Liberation Sans, sans-serif" fill="#262626" text-anchor="start" textLength="17.22" lengthAdjust="spacingAndGlyphs">195</text>
<text x="567.39" y="166.40" font-size="10.5" font-family="Liberation Sans, sans-serif" fill="#262626" text-anchor="start" textLength="12.64" lengthAdjust="spacingAndGlyphs">80</text>
<text x="362.97" y="172.40" font-size="10.3" font-family="Liberation Sans, sans-serif" fill="#262626" text-anchor="start" textLength="43.67" lengthAdjust="spacingAndGlyphs">M12 × 28</text>
<path d="M363.8,175.3 L408.8,175.3 L408.8,198.8 L413.0,204.2 L408.8,209.6" fill="none" stroke="#3e3e3e" stroke-width="0.7"/>
<line x1="404.80" y1="187.70" x2="404.80" y2="244.60" stroke="#3e3e3e" stroke-width="0.7"/>
<line x1="403.50" y1="198.40" x2="413.30" y2="198.40" stroke="#3e3e3e" stroke-width="0.7"/>
<line x1="403.50" y1="210.20" x2="413.30" y2="210.20" stroke="#3e3e3e" stroke-width="0.7"/>
<polygon points="404.80,198.40 403.80,194.40 405.80,194.40" fill="#3e3e3e"/>
<polygon points="404.80,210.20 405.80,214.20 403.80,214.20" fill="#3e3e3e"/>
<text x="399.50" y="244.52" font-size="10.5" font-family="Liberation Sans, sans-serif" fill="#262626" text-anchor="start" textLength="33.28" lengthAdjust="spacingAndGlyphs" transform="rotate(-90 399.50 244.52)">Φ35 j6</text>
<text x="594.26" y="173.90" font-size="10.3" font-family="Liberation Sans, sans-serif" fill="#262626" text-anchor="start" textLength="44.08" lengthAdjust="spacingAndGlyphs">M12 × 28</text>
<path d="M636,175.5 L595.60,175.5 L595.60,198.5 L590.50,204.3 L595.60,209.8" fill="none" stroke="#3e3e3e" stroke-width="0.7"/>
<line x1="603.10" y1="188.70" x2="603.10" y2="244.40" stroke="#3e3e3e" stroke-width="0.7"/>
<line x1="590.00" y1="198.30" x2="604.50" y2="198.30" stroke="#3e3e3e" stroke-width="0.7"/>
<line x1="590.00" y1="210.30" x2="604.50" y2="210.30" stroke="#3e3e3e" stroke-width="0.7"/>
<polygon points="603.10,198.30 602.10,194.30 604.10,194.30" fill="#3e3e3e"/>
<polygon points="603.10,210.30 604.10,214.30 602.10,214.30" fill="#3e3e3e"/>
<text x="598.80" y="246.62" font-size="10.5" font-family="Liberation Sans, sans-serif" fill="#262626" text-anchor="start" textLength="33.49" lengthAdjust="spacingAndGlyphs" transform="rotate(-90 598.80 246.62)">Φ35 j6</text>
<line x1="184.00" y1="457.90" x2="307.50" y2="457.90" stroke="#3e3e3e" stroke-width="0.8"/>
<line x1="184.00" y1="475.50" x2="307.50" y2="475.50" stroke="#3e3e3e" stroke-width="0.8"/>
<line x1="184.00" y1="457.90" x2="184.00" y2="475.50" stroke="#3e3e3e" stroke-width="0.9"/>
<line x1="307.50" y1="457.90" x2="307.50" y2="475.50" stroke="#3e3e3e" stroke-width="0.9"/>
<line x1="176.00" y1="466.80" x2="315.00" y2="466.80" stroke="#3e3e3e" stroke-width="0.8"/>
<line x1="184.00" y1="456.60" x2="210.70" y2="456.60" stroke="#3e3e3e" stroke-width="0.7"/>
<line x1="280.80" y1="456.60" x2="307.50" y2="456.60" stroke="#3e3e3e" stroke-width="0.7"/>
<line x1="210.70" y1="456.60" x2="210.70" y2="457.90" stroke="#3e3e3e" stroke-width="0.7"/>
<line x1="280.80" y1="456.60" x2="280.80" y2="457.90" stroke="#3e3e3e" stroke-width="0.7"/>
<clipPath id="htab"><polygon points="211.60,457.90 211.60,452.80 225.70,452.80 227.70,449.90 264.70,449.90 266.70,452.80 279.90,452.80 279.90,457.90"/></clipPath>
<g clip-path="url(#htab)">
<line x1="203.60" y1="457.90" x2="211.60" y2="449.90" stroke="#3e3e3e" stroke-width="0.85"/>
<line x1="208.20" y1="457.90" x2="216.20" y2="449.90" stroke="#3e3e3e" stroke-width="0.85"/>
<line x1="212.80" y1="457.90" x2="220.80" y2="449.90" stroke="#3e3e3e" stroke-width="0.85"/>
<line x1="217.40" y1="457.90" x2="225.40" y2="449.90" stroke="#3e3e3e" stroke-width="0.85"/>
<line x1="222.00" y1="457.90" x2="230.00" y2="449.90" stroke="#3e3e3e" stroke-width="0.85"/>
<line x1="226.60" y1="457.90" x2="234.60" y2="449.90" stroke="#3e3e3e" stroke-width="0.85"/>
<line x1="231.20" y1="457.90" x2="239.20" y2="449.90" stroke="#3e3e3e" stroke-width="0.85"/>
<line x1="235.80" y1="457.90" x2="243.80" y2="449.90" stroke="#3e3e3e" stroke-width="0.85"/>
<line x1="240.40" y1="457.90" x2="248.40" y2="449.90" stroke="#3e3e3e" stroke-width="0.85"/>
<line x1="245.00" y1="457.90" x2="253.00" y2="449.90" stroke="#3e3e3e" stroke-width="0.85"/>
<line x1="249.60" y1="457.90" x2="257.60" y2="449.90" stroke="#3e3e3e" stroke-width="0.85"/>
<line x1="254.20" y1="457.90" x2="262.20" y2="449.90" stroke="#3e3e3e" stroke-width="0.85"/>
<line x1="258.80" y1="457.90" x2="266.80" y2="449.90" stroke="#3e3e3e" stroke-width="0.85"/>
<line x1="263.40" y1="457.90" x2="271.40" y2="449.90" stroke="#3e3e3e" stroke-width="0.85"/>
<line x1="268.00" y1="457.90" x2="276.00" y2="449.90" stroke="#3e3e3e" stroke-width="0.85"/>
<line x1="272.60" y1="457.90" x2="280.60" y2="449.90" stroke="#3e3e3e" stroke-width="0.85"/>
<line x1="277.20" y1="457.90" x2="285.20" y2="449.90" stroke="#3e3e3e" stroke-width="0.85"/>
<line x1="281.80" y1="457.90" x2="289.80" y2="449.90" stroke="#3e3e3e" stroke-width="0.85"/>
<line x1="286.40" y1="457.90" x2="294.40" y2="449.90" stroke="#3e3e3e" stroke-width="0.85"/>
</g>
<clipPath id="hbab"><polygon points="211.60,475.50 211.60,481.90 225.70,481.90 227.70,484.20 264.70,484.20 266.70,481.90 279.90,481.90 279.90,475.50"/></clipPath>
<g clip-path="url(#hbab)">
<line x1="202.90" y1="484.20" x2="211.60" y2="475.50" stroke="#3e3e3e" stroke-width="0.85"/>
<line x1="207.50" y1="484.20" x2="216.20" y2="475.50" stroke="#3e3e3e" stroke-width="0.85"/>
<line x1="212.10" y1="484.20" x2="220.80" y2="475.50" stroke="#3e3e3e" stroke-width="0.85"/>
<line x1="216.70" y1="484.20" x2="225.40" y2="475.50" stroke="#3e3e3e" stroke-width="0.85"/>
<line x1="221.30" y1="484.20" x2="230.00" y2="475.50" stroke="#3e3e3e" stroke-width="0.85"/>
<line x1="225.90" y1="484.20" x2="234.60" y2="475.50" stroke="#3e3e3e" stroke-width="0.85"/>
<line x1="230.50" y1="484.20" x2="239.20" y2="475.50" stroke="#3e3e3e" stroke-width="0.85"/>
<line x1="235.10" y1="484.20" x2="243.80" y2="475.50" stroke="#3e3e3e" stroke-width="0.85"/>
<line x1="239.70" y1="484.20" x2="248.40" y2="475.50" stroke="#3e3e3e" stroke-width="0.85"/>
<line x1="244.30" y1="484.20" x2="253.00" y2="475.50" stroke="#3e3e3e" stroke-width="0.85"/>
<line x1="248.90" y1="484.20" x2="257.60" y2="475.50" stroke="#3e3e3e" stroke-width="0.85"/>
<line x1="253.50" y1="484.20" x2="262.20" y2="475.50" stroke="#3e3e3e" stroke-width="0.85"/>
<line x1="258.10" y1="484.20" x2="266.80" y2="475.50" stroke="#3e3e3e" stroke-width="0.85"/>
<line x1="262.70" y1="484.20" x2="271.40" y2="475.50" stroke="#3e3e3e" stroke-width="0.85"/>
<line x1="267.30" y1="484.20" x2="276.00" y2="475.50" stroke="#3e3e3e" stroke-width="0.85"/>
<line x1="271.90" y1="484.20" x2="280.60" y2="475.50" stroke="#3e3e3e" stroke-width="0.85"/>
<line x1="276.50" y1="484.20" x2="285.20" y2="475.50" stroke="#3e3e3e" stroke-width="0.85"/>
<line x1="281.10" y1="484.20" x2="289.80" y2="475.50" stroke="#3e3e3e" stroke-width="0.85"/>
<line x1="285.70" y1="484.20" x2="294.40" y2="475.50" stroke="#3e3e3e" stroke-width="0.85"/>
</g>
<polygon points="211.60,457.90 211.60,452.80 225.70,452.80 227.70,449.90 264.70,449.90 266.70,452.80 279.90,452.80 279.90,457.90" fill="none" stroke="#3e3e3e" stroke-width="0.8"/>
<polygon points="211.60,475.50 211.60,481.90 225.70,481.90 227.70,484.20 264.70,484.20 266.70,481.90 279.90,481.90 279.90,475.50" fill="none" stroke="#3e3e3e" stroke-width="0.8"/>
<rect x="239.80" y="444.20" width="12.80" height="5.70" rx="1.6" fill="#fff" stroke="#3e3e3e" stroke-width="0.8"/>
<line x1="243.00" y1="444.80" x2="243.00" y2="449.90" stroke="#3e3e3e" stroke-width="0.7"/>
<line x1="249.40" y1="444.80" x2="249.40" y2="449.90" stroke="#3e3e3e" stroke-width="0.7"/>
<rect x="239.80" y="484.20" width="12.80" height="5.50" rx="1.6" fill="#fff" stroke="#3e3e3e" stroke-width="0.8"/>
<line x1="243.00" y1="484.80" x2="243.00" y2="489.70" stroke="#3e3e3e" stroke-width="0.7"/>
<line x1="249.40" y1="484.80" x2="249.40" y2="489.70" stroke="#3e3e3e" stroke-width="0.7"/>
<line x1="214.10" y1="459.40" x2="238.90" y2="459.40" stroke="#3e3e3e" stroke-width="0.7"/>
<line x1="252.90" y1="459.40" x2="277.40" y2="459.40" stroke="#3e3e3e" stroke-width="0.7"/>
<line x1="245.90" y1="441.20" x2="245.90" y2="492.20" stroke="#3e3e3e" stroke-width="0.8"/>
<line x1="184.00" y1="410.10" x2="307.50" y2="410.10" stroke="#3e3e3e" stroke-width="0.7"/>
<polygon points="184.00,410.10 188.00,409.10 188.00,411.10" fill="#3e3e3e"/>
<polygon points="307.50,410.10 303.50,411.10 303.50,409.10" fill="#3e3e3e"/>
<line x1="184.00" y1="408.20" x2="184.00" y2="457.90" stroke="#3e3e3e" stroke-width="0.7"/>
<line x1="307.50" y1="408.20" x2="307.50" y2="457.90" stroke="#3e3e3e" stroke-width="0.7"/>
<line x1="184.00" y1="428.10" x2="212.30" y2="428.10" stroke="#3e3e3e" stroke-width="0.7"/>
<polygon points="184.00,428.10 188.00,427.10 188.00,429.10" fill="#3e3e3e"/>
<polygon points="212.30,428.10 208.30,429.10 208.30,427.10" fill="#3e3e3e"/>
<line x1="184.00" y1="448.60" x2="211.00" y2="448.60" stroke="#3e3e3e" stroke-width="0.7"/>
<polygon points="184.00,448.60 188.00,447.60 188.00,449.60" fill="#3e3e3e"/>
<polygon points="211.00,448.60 207.00,449.60 207.00,447.60" fill="#3e3e3e"/>
<line x1="212.30" y1="426.50" x2="212.30" y2="452.80" stroke="#3e3e3e" stroke-width="0.7"/>
<line x1="278.80" y1="428.10" x2="307.50" y2="428.10" stroke="#3e3e3e" stroke-width="0.7"/>
<polygon points="278.80,428.10 282.80,427.10 282.80,429.10" fill="#3e3e3e"/>
<polygon points="307.50,428.10 303.50,429.10 303.50,427.10" fill="#3e3e3e"/>
<line x1="280.80" y1="448.60" x2="307.50" y2="448.60" stroke="#3e3e3e" stroke-width="0.7"/>
<polygon points="280.80,448.60 284.80,447.60 284.80,449.60" fill="#3e3e3e"/>
<polygon points="307.50,448.60 303.50,449.60 303.50,447.60" fill="#3e3e3e"/>
<line x1="278.80" y1="426.50" x2="278.80" y2="452.80" stroke="#3e3e3e" stroke-width="0.7"/>
<text x="231.98" y="408.70" font-size="10.6" font-family="Liberation Sans, sans-serif" fill="#262626" text-anchor="start" textLength="17.68" lengthAdjust="spacingAndGlyphs">374</text>
<text x="193.41" y="426.60" font-size="10.4" font-family="Liberation Sans, sans-serif" fill="#262626" text-anchor="start" textLength="12.16" lengthAdjust="spacingAndGlyphs">87</text>
<text x="193.41" y="446.60" font-size="10.4" font-family="Liberation Sans, sans-serif" fill="#262626" text-anchor="start" textLength="12.16" lengthAdjust="spacingAndGlyphs">82</text>
<text x="287.29" y="426.40" font-size="10.4" font-family="Liberation Sans, sans-serif" fill="#262626" text-anchor="start" textLength="12.49" lengthAdjust="spacingAndGlyphs">87</text>
<text x="287.29" y="446.20" font-size="10.4" font-family="Liberation Sans, sans-serif" fill="#262626" text-anchor="start" textLength="12.49" lengthAdjust="spacingAndGlyphs">82</text>
<text x="135.27" y="433.00" font-size="10.3" font-family="Liberation Sans, sans-serif" fill="#262626" text-anchor="start" textLength="43.47" lengthAdjust="spacingAndGlyphs">M16 × 36</text>
<path d="M136.1,437 L177.3,437 L177.3,462.8 L182.6,466.80 L177.3,470.8" fill="none" stroke="#3e3e3e" stroke-width="0.7"/>
<text x="315.36" y="433.20" font-size="10.3" font-family="Liberation Sans, sans-serif" fill="#262626" text-anchor="start" textLength="43.98" lengthAdjust="spacingAndGlyphs">M16 × 36</text>
<path d="M354.2,437 L313.8,437 L313.8,462.8 L308.5,466.80 L313.8,470.8" fill="none" stroke="#3e3e3e" stroke-width="0.7"/>
<line x1="166.30" y1="457.90" x2="166.30" y2="509.10" stroke="#3e3e3e" stroke-width="0.7"/>
<line x1="165.00" y1="457.90" x2="184.00" y2="457.90" stroke="#3e3e3e" stroke-width="0.7"/>
<line x1="165.00" y1="475.50" x2="184.00" y2="475.50" stroke="#3e3e3e" stroke-width="0.7"/>
<polygon points="166.30,457.90 167.30,461.90 165.30,461.90" fill="#3e3e3e"/>
<polygon points="166.30,475.50 165.30,471.50 167.30,471.50" fill="#3e3e3e"/>
<text x="162.20" y="511.60" font-size="10.3" font-family="Liberation Sans, sans-serif" fill="#262626" text-anchor="start" textLength="35.73" lengthAdjust="spacingAndGlyphs" transform="rotate(-90 162.20 511.60)">Φ50 h6</text>
<line x1="325.40" y1="457.90" x2="325.40" y2="511.20" stroke="#3e3e3e" stroke-width="0.7"/>
<line x1="307.50" y1="457.90" x2="326.60" y2="457.90" stroke="#3e3e3e" stroke-width="0.7"/>
<line x1="307.50" y1="475.50" x2="326.60" y2="475.50" stroke="#3e3e3e" stroke-width="0.7"/>
<polygon points="325.40,457.90 326.40,461.90 324.40,461.90" fill="#3e3e3e"/>
<polygon points="325.40,475.50 324.40,471.50 326.40,471.50" fill="#3e3e3e"/>
<text x="321.50" y="513.49" font-size="10.3" font-family="Liberation Sans, sans-serif" fill="#262626" text-anchor="start" textLength="35.11" lengthAdjust="spacingAndGlyphs" transform="rotate(-90 321.50 513.49)">Φ50 h6</text>
<clipPath id="ksec"><circle cx="394.6" cy="467.1" r="8.3"/></clipPath>
<g clip-path="url(#ksec)">
<line x1="378.00" y1="475.40" x2="394.60" y2="458.80" stroke="#3e3e3e" stroke-width="0.6"/>
<line x1="380.60" y1="475.40" x2="397.20" y2="458.80" stroke="#3e3e3e" stroke-width="0.6"/>
<line x1="383.20" y1="475.40" x2="399.80" y2="458.80" stroke="#3e3e3e" stroke-width="0.6"/>
<line x1="385.80" y1="475.40" x2="402.40" y2="458.80" stroke="#3e3e3e" stroke-width="0.6"/>
<line x1="388.40" y1="475.40" x2="405.00" y2="458.80" stroke="#3e3e3e" stroke-width="0.6"/>
<line x1="391.00" y1="475.40" x2="407.60" y2="458.80" stroke="#3e3e3e" stroke-width="0.6"/>
<line x1="393.60" y1="475.40" x2="410.20" y2="458.80" stroke="#3e3e3e" stroke-width="0.6"/>
<line x1="396.20" y1="475.40" x2="412.80" y2="458.80" stroke="#3e3e3e" stroke-width="0.6"/>
<line x1="398.80" y1="475.40" x2="415.40" y2="458.80" stroke="#3e3e3e" stroke-width="0.6"/>
<line x1="401.40" y1="475.40" x2="418.00" y2="458.80" stroke="#3e3e3e" stroke-width="0.6"/>
<line x1="404.00" y1="475.40" x2="420.60" y2="458.80" stroke="#3e3e3e" stroke-width="0.6"/>
<line x1="406.60" y1="475.40" x2="423.20" y2="458.80" stroke="#3e3e3e" stroke-width="0.6"/>
<line x1="409.20" y1="475.40" x2="425.80" y2="458.80" stroke="#3e3e3e" stroke-width="0.6"/>
</g>
<circle cx="394.60" cy="467.10" r="8.30" fill="none" stroke="#3e3e3e" stroke-width="0.9"/>
<rect x="392.3" y="457.1" width="4.2" height="2.6" fill="#fff" stroke="#3e3e3e" stroke-width="0.7"/>
<line x1="392.30" y1="447.90" x2="392.30" y2="457.10" stroke="#3e3e3e" stroke-width="0.7"/>
<line x1="396.50" y1="447.90" x2="396.50" y2="457.10" stroke="#3e3e3e" stroke-width="0.7"/>
<line x1="381.80" y1="449.50" x2="392.30" y2="449.50" stroke="#3e3e3e" stroke-width="0.7"/>
<line x1="396.50" y1="449.50" x2="407.40" y2="449.50" stroke="#3e3e3e" stroke-width="0.7"/>
<polygon points="392.30,449.50 388.30,450.50 388.30,448.50" fill="#3e3e3e"/>
<polygon points="396.50,449.50 400.50,448.50 400.50,450.50" fill="#3e3e3e"/>
<text x="387.61" y="444.30" font-size="10.4" font-family="Liberation Sans, sans-serif" fill="#262626" text-anchor="start" textLength="11.73" lengthAdjust="spacingAndGlyphs">14</text>
<line x1="377.50" y1="457.10" x2="394.60" y2="457.10" stroke="#3e3e3e" stroke-width="0.7"/>
<line x1="377.50" y1="475.40" x2="394.60" y2="475.40" stroke="#3e3e3e" stroke-width="0.7"/>
<line x1="378.30" y1="457.10" x2="378.30" y2="475.40" stroke="#3e3e3e" stroke-width="0.7"/>
<polygon points="378.30,457.10 379.30,461.10 377.30,461.10" fill="#3e3e3e"/>
<polygon points="378.30,475.40 377.30,471.40 379.30,471.40" fill="#3e3e3e"/>
<text x="373.80" y="477.34" font-size="10.4" font-family="Liberation Sans, sans-serif" fill="#262626" text-anchor="start" textLength="21.29" lengthAdjust="spacingAndGlyphs" transform="rotate(-90 373.80 477.34)">53.5</text>
<line x1="384.30" y1="467.10" x2="405.60" y2="467.10" stroke="#3e3e3e" stroke-width="0.7"/>
<line x1="394.60" y1="457.00" x2="394.60" y2="477.80" stroke="#3e3e3e" stroke-width="0.7"/>
<circle cx="237.50" cy="524.10" r="17.40" fill="none" stroke="#3e3e3e" stroke-width="0.9"/>
<text x="226.20" y="530.50" font-size="18.3" font-family="Liberation Sans, sans-serif" fill="#262626" text-anchor="start" textLength="23.97" lengthAdjust="spacingAndGlyphs">AB</text>
<line x1="476.40" y1="458.50" x2="572.40" y2="458.50" stroke="#3e3e3e" stroke-width="0.8"/>
<line x1="476.40" y1="475.40" x2="572.40" y2="475.40" stroke="#3e3e3e" stroke-width="0.8"/>
<line x1="572.40" y1="458.50" x2="572.40" y2="475.40" stroke="#3e3e3e" stroke-width="0.9"/>
<rect x="473.9" y="458.6" width="2.5" height="17.0" fill="#9a9a9a" stroke="#3e3e3e" stroke-width="0.6"/>
<line x1="470.70" y1="466.80" x2="577.00" y2="466.80" stroke="#3e3e3e" stroke-width="0.8"/>
<line x1="545.40" y1="457.10" x2="572.40" y2="457.10" stroke="#3e3e3e" stroke-width="0.7"/>
<line x1="545.40" y1="457.10" x2="545.40" y2="458.50" stroke="#3e3e3e" stroke-width="0.7"/>
<clipPath id="htas"><polygon points="477.40,458.50 477.40,452.60 490.00,452.60 492.00,449.80 529.00,449.80 531.00,452.60 543.20,452.60 543.20,458.50"/></clipPath>
<g clip-path="url(#htas)">
<line x1="468.70" y1="458.50" x2="477.40" y2="449.80" stroke="#3e3e3e" stroke-width="0.85"/>
<line x1="473.30" y1="458.50" x2="482.00" y2="449.80" stroke="#3e3e3e" stroke-width="0.85"/>
<line x1="477.90" y1="458.50" x2="486.60" y2="449.80" stroke="#3e3e3e" stroke-width="0.85"/>
<line x1="482.50" y1="458.50" x2="491.20" y2="449.80" stroke="#3e3e3e" stroke-width="0.85"/>
<line x1="487.10" y1="458.50" x2="495.80" y2="449.80" stroke="#3e3e3e" stroke-width="0.85"/>
<line x1="491.70" y1="458.50" x2="500.40" y2="449.80" stroke="#3e3e3e" stroke-width="0.85"/>
<line x1="496.30" y1="458.50" x2="505.00" y2="449.80" stroke="#3e3e3e" stroke-width="0.85"/>
<line x1="500.90" y1="458.50" x2="509.60" y2="449.80" stroke="#3e3e3e" stroke-width="0.85"/>
<line x1="505.50" y1="458.50" x2="514.20" y2="449.80" stroke="#3e3e3e" stroke-width="0.85"/>
<line x1="510.10" y1="458.50" x2="518.80" y2="449.80" stroke="#3e3e3e" stroke-width="0.85"/>
<line x1="514.70" y1="458.50" x2="523.40" y2="449.80" stroke="#3e3e3e" stroke-width="0.85"/>
<line x1="519.30" y1="458.50" x2="528.00" y2="449.80" stroke="#3e3e3e" stroke-width="0.85"/>
<line x1="523.90" y1="458.50" x2="532.60" y2="449.80" stroke="#3e3e3e" stroke-width="0.85"/>
<line x1="528.50" y1="458.50" x2="537.20" y2="449.80" stroke="#3e3e3e" stroke-width="0.85"/>
<line x1="533.10" y1="458.50" x2="541.80" y2="449.80" stroke="#3e3e3e" stroke-width="0.85"/>
<line x1="537.70" y1="458.50" x2="546.40" y2="449.80" stroke="#3e3e3e" stroke-width="0.85"/>
<line x1="542.30" y1="458.50" x2="551.00" y2="449.80" stroke="#3e3e3e" stroke-width="0.85"/>
<line x1="546.90" y1="458.50" x2="555.60" y2="449.80" stroke="#3e3e3e" stroke-width="0.85"/>
<line x1="551.50" y1="458.50" x2="560.20" y2="449.80" stroke="#3e3e3e" stroke-width="0.85"/>
</g>
<clipPath id="hbas"><polygon points="477.40,475.40 477.40,481.80 490.00,481.80 492.00,484.60 529.00,484.60 531.00,481.80 543.20,481.80 543.20,475.40"/></clipPath>
<g clip-path="url(#hbas)">
<line x1="468.20" y1="484.60" x2="477.40" y2="475.40" stroke="#3e3e3e" stroke-width="0.85"/>
<line x1="472.80" y1="484.60" x2="482.00" y2="475.40" stroke="#3e3e3e" stroke-width="0.85"/>
<line x1="477.40" y1="484.60" x2="486.60" y2="475.40" stroke="#3e3e3e" stroke-width="0.85"/>
<line x1="482.00" y1="484.60" x2="491.20" y2="475.40" stroke="#3e3e3e" stroke-width="0.85"/>
<line x1="486.60" y1="484.60" x2="495.80" y2="475.40" stroke="#3e3e3e" stroke-width="0.85"/>
<line x1="491.20" y1="484.60" x2="500.40" y2="475.40" stroke="#3e3e3e" stroke-width="0.85"/>
<line x1="495.80" y1="484.60" x2="505.00" y2="475.40" stroke="#3e3e3e" stroke-width="0.85"/>
<line x1="500.40" y1="484.60" x2="509.60" y2="475.40" stroke="#3e3e3e" stroke-width="0.85"/>
<line x1="505.00" y1="484.60" x2="514.20" y2="475.40" stroke="#3e3e3e" stroke-width="0.85"/>
<line x1="509.60" y1="484.60" x2="518.80" y2="475.40" stroke="#3e3e3e" stroke-width="0.85"/>
<line x1="514.20" y1="484.60" x2="523.40" y2="475.40" stroke="#3e3e3e" stroke-width="0.85"/>
<line x1="518.80" y1="484.60" x2="528.00" y2="475.40" stroke="#3e3e3e" stroke-width="0.85"/>
<line x1="523.40" y1="484.60" x2="532.60" y2="475.40" stroke="#3e3e3e" stroke-width="0.85"/>
<line x1="528.00" y1="484.60" x2="537.20" y2="475.40" stroke="#3e3e3e" stroke-width="0.85"/>
<line x1="532.60" y1="484.60" x2="541.80" y2="475.40" stroke="#3e3e3e" stroke-width="0.85"/>
<line x1="537.20" y1="484.60" x2="546.40" y2="475.40" stroke="#3e3e3e" stroke-width="0.85"/>
<line x1="541.80" y1="484.60" x2="551.00" y2="475.40" stroke="#3e3e3e" stroke-width="0.85"/>
<line x1="546.40" y1="484.60" x2="555.60" y2="475.40" stroke="#3e3e3e" stroke-width="0.85"/>
<line x1="551.00" y1="484.60" x2="560.20" y2="475.40" stroke="#3e3e3e" stroke-width="0.85"/>
</g>
<polygon points="477.40,458.50 477.40,452.60 490.00,452.60 492.00,449.80 529.00,449.80 531.00,452.60 543.20,452.60 543.20,458.50" fill="none" stroke="#3e3e3e" stroke-width="0.8"/>
<polygon points="477.40,475.40 477.40,481.80 490.00,481.80 492.00,484.60 529.00,484.60 531.00,481.80 543.20,481.80 543.20,475.40" fill="none" stroke="#3e3e3e" stroke-width="0.8"/>
<rect x="504.10" y="444.10" width="13.50" height="5.70" rx="1.6" fill="#fff" stroke="#3e3e3e" stroke-width="0.8"/>
<line x1="507.30" y1="444.70" x2="507.30" y2="449.80" stroke="#3e3e3e" stroke-width="0.7"/>
<line x1="514.40" y1="444.70" x2="514.40" y2="449.80" stroke="#3e3e3e" stroke-width="0.7"/>
<rect x="504.10" y="484.60" width="13.50" height="5.40" rx="1.6" fill="#fff" stroke="#3e3e3e" stroke-width="0.8"/>
<line x1="507.30" y1="485.20" x2="507.30" y2="490.00" stroke="#3e3e3e" stroke-width="0.7"/>
<line x1="514.40" y1="485.20" x2="514.40" y2="490.00" stroke="#3e3e3e" stroke-width="0.7"/>
<line x1="479.90" y1="460.00" x2="503.50" y2="460.00" stroke="#3e3e3e" stroke-width="0.7"/>
<line x1="517.50" y1="460.00" x2="540.70" y2="460.00" stroke="#3e3e3e" stroke-width="0.7"/>
<line x1="510.50" y1="441.10" x2="510.50" y2="492.50" stroke="#3e3e3e" stroke-width="0.8"/>
<line x1="543.20" y1="458.50" x2="543.20" y2="475.40" stroke="#3e3e3e" stroke-width="0.8"/>
<line x1="473.90" y1="409.90" x2="572.40" y2="409.90" stroke="#3e3e3e" stroke-width="0.7"/>
<polygon points="473.90,409.90 477.90,408.90 477.90,410.90" fill="#3e3e3e"/>
<polygon points="572.40,409.90 568.40,410.90 568.40,408.90" fill="#3e3e3e"/>
<line x1="473.90" y1="408.20" x2="473.90" y2="458.60" stroke="#3e3e3e" stroke-width="0.7"/>
<line x1="572.40" y1="408.20" x2="572.40" y2="458.50" stroke="#3e3e3e" stroke-width="0.7"/>
<line x1="477.40" y1="428.00" x2="543.20" y2="428.00" stroke="#3e3e3e" stroke-width="0.7"/>
<polygon points="477.40,428.00 481.40,427.00 481.40,429.00" fill="#3e3e3e"/>
<polygon points="543.20,428.00 539.20,429.00 539.20,427.00" fill="#3e3e3e"/>
<line x1="543.50" y1="428.00" x2="572.40" y2="428.00" stroke="#3e3e3e" stroke-width="0.7"/>
<polygon points="543.50,428.00 547.50,427.00 547.50,429.00" fill="#3e3e3e"/>
<polygon points="572.40,428.00 568.40,429.00 568.40,427.00" fill="#3e3e3e"/>
<line x1="477.40" y1="426.30" x2="477.40" y2="452.60" stroke="#3e3e3e" stroke-width="0.7"/>
<line x1="543.20" y1="426.30" x2="543.20" y2="452.60" stroke="#3e3e3e" stroke-width="0.7"/>
<line x1="545.40" y1="450.90" x2="572.40" y2="450.90" stroke="#3e3e3e" stroke-width="0.7"/>
<polygon points="545.40,450.90 549.40,449.90 549.40,451.90" fill="#3e3e3e"/>
<polygon points="572.40,450.90 568.40,451.90 568.40,449.90" fill="#3e3e3e"/>
<text x="514.76" y="407.70" font-size="10.6" font-family="Liberation Sans, sans-serif" fill="#262626" text-anchor="start" textLength="18.12" lengthAdjust="spacingAndGlyphs">297</text>
<text x="504.46" y="425.60" font-size="10.6" font-family="Liberation Sans, sans-serif" fill="#262626" text-anchor="start" textLength="18.06" lengthAdjust="spacingAndGlyphs">200</text>
<text x="552.52" y="425.60" font-size="10.4" font-family="Liberation Sans, sans-serif" fill="#262626" text-anchor="start" textLength="11.84" lengthAdjust="spacingAndGlyphs">87</text>
<text x="552.51" y="446.90" font-size="10.4" font-family="Liberation Sans, sans-serif" fill="#262626" text-anchor="start" textLength="12.05" lengthAdjust="spacingAndGlyphs">82</text>
<text x="576.87" y="434.80" font-size="10.3" font-family="Liberation Sans, sans-serif" fill="#262626" text-anchor="start" textLength="43.47" lengthAdjust="spacingAndGlyphs">M16 × 36</text>
<path d="M619.6,437 L577.7,437 L577.7,462.8 L573.0,466.80 L577.7,470.8" fill="none" stroke="#3e3e3e" stroke-width="0.7"/>
<line x1="588.60" y1="458.50" x2="588.60" y2="510.20" stroke="#3e3e3e" stroke-width="0.7"/>
<line x1="572.40" y1="458.50" x2="590.00" y2="458.50" stroke="#3e3e3e" stroke-width="0.7"/>
<line x1="572.40" y1="475.40" x2="590.00" y2="475.40" stroke="#3e3e3e" stroke-width="0.7"/>
<polygon points="588.60,458.50 589.60,462.50 587.60,462.50" fill="#3e3e3e"/>
<polygon points="588.60,475.40 587.60,471.40 589.60,471.40" fill="#3e3e3e"/>
<text x="584.00" y="512.97" font-size="10.3" font-family="Liberation Sans, sans-serif" fill="#262626" text-anchor="start" textLength="34.50" lengthAdjust="spacingAndGlyphs" transform="rotate(-90 584.00 512.97)">Φ50 h6</text>
<circle cx="509.40" cy="524.00" r="17.50" fill="none" stroke="#3e3e3e" stroke-width="0.9"/>
<text x="498.60" y="530.40" font-size="18.3" font-family="Liberation Sans, sans-serif" fill="#262626" text-anchor="start" textLength="23.67" lengthAdjust="spacingAndGlyphs">AS</text>
<path d="M152.5,650.7 L152.5,636.4 L331.4,636.4" fill="none" stroke="#6a6a6a" stroke-width="0.95"/>
<path d="M373.5,636.4 L557.4,636.4 L557.4,650.7" fill="none" stroke="#6a6a6a" stroke-width="0.95"/>
<text x="342.60" y="640.80" font-size="18.0" font-family="Liberation Sans, sans-serif" fill="#262626" text-anchor="start" textLength="22.95" lengthAdjust="spacingAndGlyphs">FA</text>
<polygon points="325.00,751.16 325.00,795.24 323.61,798.06 322.05,800.80 320.33,803.44 318.46,805.97 316.44,808.38 314.28,810.68 311.98,812.84 309.57,814.86 307.04,816.73 304.40,818.45 301.66,820.01 298.84,821.40 254.76,821.40 251.94,820.01 249.20,818.45 246.56,816.73 244.03,814.86 241.62,812.84 239.32,810.68 237.16,808.38 235.14,805.97 233.27,803.44 231.55,800.80 229.99,798.06 228.60,795.24 228.60,751.16 229.99,748.34 231.55,745.60 233.27,742.96 235.14,740.43 237.16,738.02 239.32,735.72 241.62,733.56 244.03,731.54 246.56,729.67 249.20,727.95 251.94,726.39 254.76,725.00 298.84,725.00 301.66,726.39 304.40,727.95 307.04,729.67 309.57,731.54 311.98,733.56 314.28,735.72 316.44,738.02 318.46,740.43 320.33,742.96 322.05,745.60 323.61,748.34" fill="none" stroke="#3e3e3e" stroke-width="0.8"/>
<circle cx="276.80" cy="773.20" r="42.30" fill="none" stroke="#3e3e3e" stroke-width="0.8"/>
<circle cx="276.80" cy="773.20" r="30.00" fill="none" stroke="#3e3e3e" stroke-width="0.8"/>
<circle cx="276.80" cy="773.20" r="15.40" fill="none" stroke="#3e3e3e" stroke-width="0.8"/>
<path d="M278.80,763.00 L278.80,765.25 L278.80,765.25 L279.93,765.62 L280.99,766.15 L281.96,766.83 L282.83,767.64 L283.56,768.57 L284.16,769.59 L284.61,770.69 L284.89,771.84 L285.00,773.02 L284.94,774.21 L284.71,775.37 L284.31,776.49 L283.76,777.54 L283.06,778.50 L282.23,779.34 L281.29,780.06 L280.25,780.64 L279.14,781.06 L277.98,781.31 L276.80,781.40 L275.62,781.31 L274.46,781.06 L273.35,780.64 L272.31,780.06 L271.37,779.34 L270.54,778.50 L269.84,777.54 L269.29,776.49 L268.89,775.37 L268.66,774.21 L268.60,773.02 L268.71,771.84 L268.99,770.69 L269.44,769.59 L270.04,768.57 L270.77,767.64 L271.64,766.83 L272.61,766.15 L273.67,765.62 L274.80,765.25 L274.80,763.00 Z" fill="none" stroke="#3e3e3e" stroke-width="0.8"/>
<circle cx="315.88" cy="789.39" r="2.6" fill="#fff" stroke="#3e3e3e" stroke-width="0.8"/>
<line x1="308.21" y1="786.21" x2="323.46" y2="792.53" stroke="#3e3e3e" stroke-width="0.7"/>
<circle cx="292.99" cy="812.28" r="2.6" fill="#fff" stroke="#3e3e3e" stroke-width="0.8"/>
<line x1="289.81" y1="804.61" x2="296.13" y2="819.86" stroke="#3e3e3e" stroke-width="0.7"/>
<circle cx="260.61" cy="812.28" r="2.6" fill="#fff" stroke="#3e3e3e" stroke-width="0.8"/>
<line x1="263.79" y1="804.61" x2="257.47" y2="819.86" stroke="#3e3e3e" stroke-width="0.7"/>
<circle cx="237.72" cy="789.39" r="2.6" fill="#fff" stroke="#3e3e3e" stroke-width="0.8"/>
<line x1="245.39" y1="786.21" x2="230.14" y2="792.53" stroke="#3e3e3e" stroke-width="0.7"/>
<circle cx="237.72" cy="757.01" r="2.6" fill="#fff" stroke="#3e3e3e" stroke-width="0.8"/>
<line x1="245.39" y1="760.19" x2="230.14" y2="753.87" stroke="#3e3e3e" stroke-width="0.7"/>
<circle cx="260.61" cy="734.12" r="2.6" fill="#fff" stroke="#3e3e3e" stroke-width="0.8"/>
<line x1="263.79" y1="741.79" x2="257.47" y2="726.54" stroke="#3e3e3e" stroke-width="0.7"/>
<circle cx="292.99" cy="734.12" r="2.6" fill="#fff" stroke="#3e3e3e" stroke-width="0.8"/>
<line x1="289.81" y1="741.79" x2="296.13" y2="726.54" stroke="#3e3e3e" stroke-width="0.7"/>
<circle cx="315.88" cy="757.01" r="2.6" fill="#fff" stroke="#3e3e3e" stroke-width="0.8"/>
<line x1="308.21" y1="760.19" x2="323.46" y2="753.87" stroke="#3e3e3e" stroke-width="0.7"/>
<line x1="224.60" y1="773.20" x2="328.10" y2="773.20" stroke="#3e3e3e" stroke-width="0.8"/>
<line x1="276.80" y1="718.90" x2="276.80" y2="826.60" stroke="#3e3e3e" stroke-width="0.8"/>
<line x1="228.70" y1="688.80" x2="228.70" y2="793.00" stroke="#3e3e3e" stroke-width="0.7"/>
<line x1="324.80" y1="688.80" x2="324.80" y2="773.00" stroke="#3e3e3e" stroke-width="0.7"/>
<line x1="228.70" y1="690.50" x2="324.80" y2="690.50" stroke="#3e3e3e" stroke-width="0.7"/>
<polygon points="228.70,690.50 232.70,689.50 232.70,691.50" fill="#3e3e3e"/>
<polygon points="324.80,690.50 320.80,691.50 320.80,689.50" fill="#3e3e3e"/>
<text x="252.98" y="687.80" font-size="10.3" font-family="Liberation Sans, sans-serif" fill="#262626" text-anchor="start" textLength="46.30" lengthAdjust="spacingAndGlyphs">290 × 290</text>
<text x="195.75" y="713.00" font-size="10.0" font-family="Liberation Sans, sans-serif" fill="#262626" text-anchor="start" textLength="25.54" lengthAdjust="spacingAndGlyphs">R160</text>
<path d="M196.6,715.5 L222.4,715.5 L241.34,733.81" fill="none" stroke="#3e3e3e" stroke-width="0.7"/>
<polygon points="241.34,733.81 237.77,731.75 239.16,730.31" fill="#3e3e3e"/>
<line x1="276.80" y1="773.20" x2="305.31" y2="704.37" stroke="#3e3e3e" stroke-width="0.7"/>
<line x1="276.80" y1="773.20" x2="345.63" y2="744.69" stroke="#3e3e3e" stroke-width="0.7"/>
<line x1="276.80" y1="773.20" x2="345.63" y2="801.71" stroke="#3e3e3e" stroke-width="0.7"/>
<path d="M305.31,704.37 L307.10,705.14 L308.87,705.96 L310.62,706.82 L312.35,707.73 L314.05,708.68 L315.73,709.68 L317.38,710.72 L319.00,711.80 L320.59,712.93 L322.15,714.10 L323.68,715.30 L325.18,716.55 L326.65,717.84 L328.08,719.16 L329.48,720.52 L330.84,721.92 L332.16,723.35 L333.45,724.82 L334.70,726.32 L335.90,727.85 L337.07,729.41 L338.20,731.00 L339.28,732.62 L340.32,734.27 L341.32,735.95 L342.27,737.65 L343.18,739.38 L344.04,741.13 L344.86,742.90 L345.63,744.69 L346.35,746.50 L347.03,748.33 L347.65,750.18 L348.23,752.04 L348.76,753.92 L349.24,755.81 L349.67,757.71 L350.05,759.62 L350.38,761.55 L350.66,763.48 L350.89,765.41 L351.07,767.35 L351.20,769.30 L351.27,771.25 L351.30,773.20 L351.27,775.15 L351.20,777.10 L351.07,779.05 L350.89,780.99 L350.66,782.92 L350.38,784.85 L350.05,786.78 L349.67,788.69 L349.24,790.59 L348.76,792.48 L348.23,794.36 L347.65,796.22 L347.03,798.07 L346.35,799.90 L345.63,801.71" fill="none" stroke="#3e3e3e" stroke-width="0.7"/>
<polygon points="305.31,704.37 309.39,704.98 308.62,706.83" fill="#3e3e3e"/>
<polygon points="345.63,744.69 343.17,741.38 345.02,740.61" fill="#3e3e3e"/>
<polygon points="345.63,744.69 348.08,748.00 346.24,748.77" fill="#3e3e3e"/>
<polygon points="345.63,801.71 346.24,797.63 348.08,798.40" fill="#3e3e3e"/>
<text x="333.20" y="717.80" font-size="10.2" font-family="Liberation Sans, sans-serif" fill="#262626" text-anchor="start" textLength="15.00" lengthAdjust="spacingAndGlyphs" transform="rotate(52 333.20 717.80)">45°</text>
<text x="345.40" y="782.20" font-size="10.2" font-family="Liberation Sans, sans-serif" fill="#262626" text-anchor="start" textLength="14.81" lengthAdjust="spacingAndGlyphs" transform="rotate(-90 345.40 782.20)">45°</text>
<line x1="197.40" y1="792.50" x2="257.10" y2="852.20" stroke="#3e3e3e" stroke-width="0.7"/>
<polygon points="197.40,792.50 200.94,794.62 199.52,796.04" fill="#3e3e3e"/>
<polygon points="257.10,852.20 253.56,850.08 254.98,848.66" fill="#3e3e3e"/>
<line x1="197.40" y1="792.50" x2="239.50" y2="750.40" stroke="#3e3e3e" stroke-width="0.7"/>
<line x1="257.10" y1="852.20" x2="296.80" y2="812.50" stroke="#3e3e3e" stroke-width="0.7"/>
<text x="221.80" y="814.00" font-size="10.2" font-family="Liberation Sans, sans-serif" fill="#262626" text-anchor="start" textLength="25.60" lengthAdjust="spacingAndGlyphs" transform="rotate(45 221.80 814.00)">Φ255</text>
<line x1="280.20" y1="809.40" x2="290.39" y2="811.48" stroke="#3e3e3e" stroke-width="0.7"/>
<polygon points="290.39,811.48 286.26,811.48 286.75,809.54" fill="#3e3e3e"/>
<path d="M295.59,813.08 L323.5,819.8 L346.8,819.8" fill="none" stroke="#3e3e3e" stroke-width="0.7"/>
<polygon points="295.59,813.08 299.71,813.08 299.23,815.02" fill="#3e3e3e"/>
<text x="326.28" y="817.50" font-size="10.2" font-family="Liberation Sans, sans-serif" fill="#262626" text-anchor="start" textLength="21.58" lengthAdjust="spacingAndGlyphs">Φ16</text>
<circle cx="425.6" cy="723.7" r="49" fill="none" stroke="#3e3e3e" stroke-width="0.8"/>
<rect x="472.40" y="679.00" width="4.80" height="142.20" rx="0" fill="#fff" stroke="#3e3e3e" stroke-width="0.8"/>
<rect x="477.20" y="743.50" width="1.00" height="59.80" rx="0" fill="#fff" stroke="#3e3e3e" stroke-width="0.7"/>
<rect x="458.10" y="731.00" width="14.30" height="85.60" rx="0" fill="#fff" stroke="#3e3e3e" stroke-width="0.8"/>
<path d="M395.3,724.6 Q398.2,727 398.2,733.6 L398.2,800 L453.6,800 L453.6,733.6 Q453.6,727 456.7,724.6 Z" fill="#fff" stroke="#3e3e3e" stroke-width="0.8"/>
<rect x="394.80" y="732.00" width="3.40" height="82.60" rx="0" fill="#fff" stroke="#3e3e3e" stroke-width="0.8"/>
<rect x="453.60" y="731.00" width="4.50" height="85.60" rx="0" fill="#fff" stroke="#3e3e3e" stroke-width="0.8"/>
<rect x="392.30" y="743.90" width="2.50" height="57.80" rx="0" fill="#fff" stroke="#3e3e3e" stroke-width="0.7"/>
<rect x="395.30" y="697.50" width="61.40" height="27.10" rx="0" fill="#fff" stroke="#3e3e3e" stroke-width="0.8"/>
<path d="M405.5,724.6 A20,20 0 0 0 445.5,724.6" fill="none" stroke="#3e3e3e" stroke-width="0.8"/>
<circle cx="425.60" cy="724.30" r="15.10" fill="none" stroke="#3e3e3e" stroke-width="0.8"/>
<circle cx="401.60" cy="714.50" r="2.80" fill="none" stroke="#3e3e3e" stroke-width="0.8"/>
<circle cx="449.40" cy="714.50" r="2.80" fill="none" stroke="#3e3e3e" stroke-width="0.8"/>
<path d="M395.5,829.6 L395.5,802.5 Q395.5,799.7 398.3,799.7 L453.9,799.7 Q456.7,799.7 456.7,802.5 L456.7,829.6 Z" fill="#fff" stroke="#3e3e3e" stroke-width="0.8"/>
<circle cx="401.90" cy="813.20" r="2.80" fill="none" stroke="#3e3e3e" stroke-width="0.8"/>
<circle cx="449.70" cy="813.20" r="2.80" fill="none" stroke="#3e3e3e" stroke-width="0.8"/>
<line x1="425.60" y1="661.60" x2="425.60" y2="835.70" stroke="#3e3e3e" stroke-width="0.8"/>
<line x1="392.30" y1="724.30" x2="458.30" y2="724.30" stroke="#3e3e3e" stroke-width="0.8"/>
<line x1="389.00" y1="773.20" x2="479.60" y2="773.20" stroke="#3e3e3e" stroke-width="0.8"/>
<line x1="425.60" y1="663.30" x2="477.50" y2="663.30" stroke="#3e3e3e" stroke-width="0.7"/>
<polygon points="425.60,663.30 429.60,662.30 429.60,664.30" fill="#3e3e3e"/>
<polygon points="477.50,663.30 473.50,664.30 473.50,662.30" fill="#3e3e3e"/>
<line x1="477.50" y1="661.60" x2="477.50" y2="679.00" stroke="#3e3e3e" stroke-width="0.7"/>
<text x="442.62" y="661.10" font-size="10.2" font-family="Liberation Sans, sans-serif" fill="#262626" text-anchor="start" textLength="17.44" lengthAdjust="spacingAndGlyphs">155</text>
<line x1="448.50" y1="679.40" x2="472.40" y2="679.40" stroke="#3e3e3e" stroke-width="0.7"/>
<polygon points="472.40,679.40 468.40,680.40 468.40,678.40" fill="#3e3e3e"/>
<line x1="477.50" y1="679.40" x2="487.80" y2="679.40" stroke="#3e3e3e" stroke-width="0.7"/>
<polygon points="477.50,679.40 481.50,678.40 481.50,680.40" fill="#3e3e3e"/>
<text x="451.96" y="677.30" font-size="10.2" font-family="Liberation Sans, sans-serif" fill="#262626" text-anchor="start" textLength="12.41" lengthAdjust="spacingAndGlyphs">15</text>
<line x1="464.70" y1="695.20" x2="474.90" y2="695.20" stroke="#3e3e3e" stroke-width="0.7"/>
<polygon points="474.90,695.20 470.90,696.20 470.90,694.20" fill="#3e3e3e"/>
<line x1="477.50" y1="695.20" x2="490.00" y2="695.20" stroke="#3e3e3e" stroke-width="0.7"/>
<polygon points="477.50,695.20 481.50,694.20 481.50,696.20" fill="#3e3e3e"/>
<text x="486.27" y="692.80" font-size="10.2" font-family="Liberation Sans, sans-serif" fill="#262626" text-anchor="start" textLength="5.87" lengthAdjust="spacingAndGlyphs">7</text>
<line x1="503.50" y1="743.50" x2="503.50" y2="803.30" stroke="#3e3e3e" stroke-width="0.7"/>
<polygon points="503.50,743.50 504.50,747.50 502.50,747.50" fill="#3e3e3e"/>
<polygon points="503.50,803.30 502.50,799.30 504.50,799.30" fill="#3e3e3e"/>
<line x1="478.20" y1="743.50" x2="505.00" y2="743.50" stroke="#3e3e3e" stroke-width="0.7"/>
<line x1="478.20" y1="803.30" x2="505.00" y2="803.30" stroke="#3e3e3e" stroke-width="0.7"/>
<text x="500.00" y="795.92" font-size="10.2" font-family="Liberation Sans, sans-serif" fill="#262626" text-anchor="start" textLength="45.50" lengthAdjust="spacingAndGlyphs" transform="rotate(-90 500.00 795.92)">Φ180 H8</text>
</svg>
</body></html>
